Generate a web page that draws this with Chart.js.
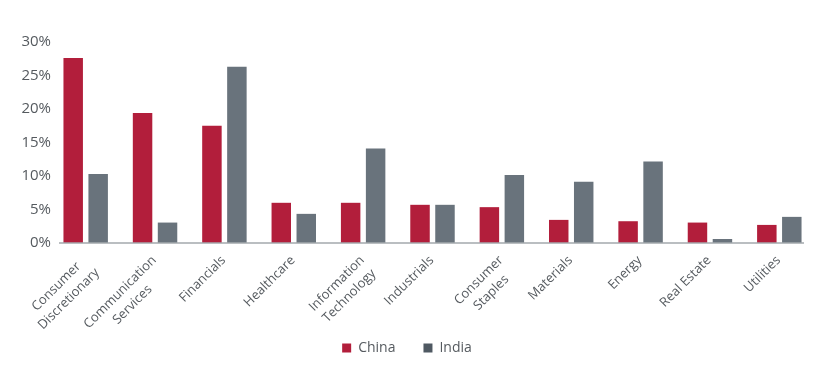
<!DOCTYPE html>
<html>
<head>
<meta charset="utf-8">
<script src="https://cdn.jsdelivr.net/npm/chart.js@4/dist/chart.umd.min.js"></script>
<style>
  html, body { margin: 0; padding: 0; background: #fff; }
  #wrap { width: 820px; height: 373px; position: relative; }
</style>
</head>
<body>
<div id="wrap"><canvas id="chart"></canvas></div>
<script>
// DATA
const sectors = [
    ["Consumer", "Discretionary"], ["Communication", "Services"], "Financials", "Healthcare",
    ["Information", "Technology"], "Industrials", ["Consumer", "Staples"], "Materials",
    "Energy", "Real Estate", "Utilities"
];
const china = [27.6, 19.4, 17.5, 6.0, 6.0, 5.7, 5.35, 3.45, 3.25, 3.05, 2.7];
const india = [10.3, 3.05, 26.3, 4.35, 14.1, 5.7, 10.15, 9.15, 12.15, 0.6, 3.9];
const yTicks = [0, 5, 10, 15, 20, 25, 30];

const RED = "#b21e3b";
const GREY = "#69737c";
const KEY_COLORS = ["#b21e3b", "#4f5962"];
const TEXT = "#555a5f";
const FONT = "Open Sans";

// baseline drawn a little shorter than the plot area, like the original
const baseline = {
    id: "baseline",
    afterDatasetsDraw(chart) {
        const { ctx, chartArea, scales } = chart;
        const y = scales.y.getPixelForValue(0);
        ctx.save();
        ctx.strokeStyle = "#a3a8ad";
        ctx.lineWidth = 1.5;
        ctx.beginPath();
        ctx.moveTo(chartArea.left + 8, y);
        ctx.lineTo(chartArea.right - 10, y);
        ctx.stroke();
        ctx.restore();
    }
};

// rotated category labels, lines centred on each other (chart.js only right-aligns them)
const slantLabels = {
    id: "slantLabels",
    afterDraw(chart) {
        const { ctx, scales } = chart;
        const y0 = scales.y.getPixelForValue(0);
        const lh = 17.5;
        ctx.save();
        ctx.font = "13px '" + FONT + "'";
        ctx.fillStyle = TEXT;
        ctx.textAlign = "center";
        ctx.textBaseline = "middle";
        chart.data.labels.forEach((lab, i) => {
            const lines = Array.isArray(lab) ? lab : [lab];
            const w = Math.max(...lines.map(l => ctx.measureText(l).width));
            const x = scales.x.getPixelForTick(i);
            ctx.save();
            ctx.translate(x - 7, y0 + 9);
            ctx.rotate(-Math.PI / 4);
            lines.forEach((l, j) => ctx.fillText(l, -w / 2, lh * (j + 0.5)));
            ctx.restore();
        });
        ctx.restore();
    }
};

new Chart(document.getElementById("chart"), {
    type: "bar",
    data: {
        labels: sectors,
        datasets: [
            { label: "China", data: china, backgroundColor: RED },
            { label: "India", data: india, backgroundColor: GREY }
        ]
    },
    options: {
        responsive: true,
        maintainAspectRatio: false,
        animation: false,
        layout: { padding: { top: 42, right: 6, bottom: 8, left: 0 } },
        datasets: {
            bar: { categoryPercentage: 0.72, barPercentage: 0.78 }
        },
        scales: {
            x: {
                grid: { display: false, drawTicks: false },
                border: { display: false },
                afterFit(scale) { scale.height = 70; },
                ticks: { display: false }
            },
            y: {
                min: 0,
                max: 30,
                grid: { display: false, drawTicks: false },
                border: { display: false },
                afterFit(scale) { scale.width = 51; },
                afterBuildTicks(scale) { scale.ticks = yTicks.map(v => ({ value: v })); },
                ticks: {
                    color: TEXT,
                    font: { family: FONT, size: 15 },
                    padding: 0,
                    callback: v => v + "%"
                }
            }
        },
        plugins: {
            legend: {
                position: "bottom",
                maxHeight: 61,
                labels: {
                    color: TEXT,
                    font: { family: FONT, size: 14 },
                    boxWidth: 9,
                    boxHeight: 9,
                    padding: 28,
                    generateLabels(chart) {
                        const items = Chart.defaults.plugins.legend.labels.generateLabels(chart);
                        items.forEach((it, i) => {
                            it.fillStyle = KEY_COLORS[i];
                            it.strokeStyle = KEY_COLORS[i];
                            it.lineWidth = 0;
                        });
                        return items;
                    }
                }
            },
            tooltip: { enabled: false }
        }
    },
    plugins: [baseline, slantLabels]
});
</script>
</body>
</html>
